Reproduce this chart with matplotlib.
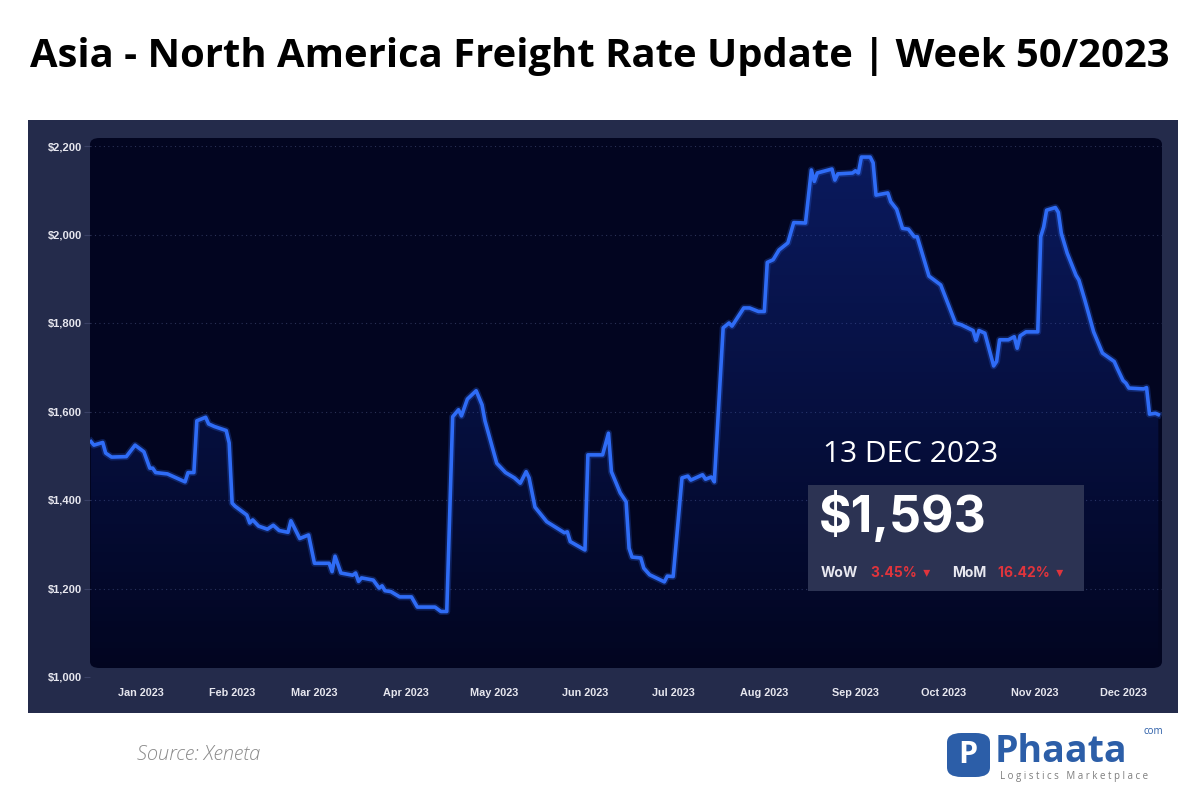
import numpy as np
import pandas as pd
import matplotlib
matplotlib.use("Agg")
import matplotlib.pyplot as plt
import matplotlib.dates as mdates
from matplotlib.patches import FancyBboxPatch
from matplotlib.ticker import FuncFormatter

title = "Asia - North America Freight Rate Update | Week 50/2023"
source = "Source: Xeneta"

# rate readings (USD/FEU)
dates = [
    "2022-12-15", "2022-12-16", "2022-12-19", "2022-12-20", "2022-12-22", "2022-12-27",
    "2022-12-30", "2023-01-02", "2023-01-04", "2023-01-05", "2023-01-06", "2023-01-10",
    "2023-01-13", "2023-01-16", "2023-01-17", "2023-01-19", "2023-01-20", "2023-01-23",
    "2023-01-24", "2023-01-26", "2023-01-30", "2023-01-31", "2023-02-01", "2023-02-02",
    "2023-02-06", "2023-02-07", "2023-02-08", "2023-02-10", "2023-02-13", "2023-02-15",
    "2023-02-17", "2023-02-20", "2023-02-21", "2023-02-24", "2023-02-27", "2023-03-01",
    "2023-03-06", "2023-03-07", "2023-03-08", "2023-03-10", "2023-03-14", "2023-03-15",
    "2023-03-16", "2023-03-17", "2023-03-21", "2023-03-23", "2023-03-24", "2023-03-25",
    "2023-03-27", "2023-03-30", "2023-04-03", "2023-04-05", "2023-04-11", "2023-04-13",
    "2023-04-15", "2023-04-17", "2023-04-19", "2023-04-20", "2023-04-22", "2023-04-25",
    "2023-04-26", "2023-04-27", "2023-04-28", "2023-05-02", "2023-05-05", "2023-05-08",
    "2023-05-10", "2023-05-12", "2023-05-13", "2023-05-15", "2023-05-19", "2023-05-25",
    "2023-05-26", "2023-05-27", "2023-06-01", "2023-06-02", "2023-06-07", "2023-06-09",
    "2023-06-10", "2023-06-13", "2023-06-15", "2023-06-16", "2023-06-17", "2023-06-20",
    "2023-06-21", "2023-06-23", "2023-06-28", "2023-06-29", "2023-07-01", "2023-07-04",
    "2023-07-06", "2023-07-07", "2023-07-11", "2023-07-12", "2023-07-14", "2023-07-15",
    "2023-07-18", "2023-07-20", "2023-07-21", "2023-07-25", "2023-07-27", "2023-07-30",
    "2023-08-01", "2023-08-02", "2023-08-04", "2023-08-05", "2023-08-06", "2023-08-09",
    "2023-08-11", "2023-08-15", "2023-08-17", "2023-08-18", "2023-08-19", "2023-08-24",
    "2023-08-25", "2023-08-26", "2023-08-31", "2023-09-01", "2023-09-02", "2023-09-03",
    "2023-09-06", "2023-09-07", "2023-09-08", "2023-09-12", "2023-09-13", "2023-09-15",
    "2023-09-17", "2023-09-19", "2023-09-21", "2023-09-22", "2023-09-26", "2023-09-30",
    "2023-10-05", "2023-10-07", "2023-10-11", "2023-10-12", "2023-10-13", "2023-10-15",
    "2023-10-18", "2023-10-19", "2023-10-20", "2023-10-23", "2023-10-25", "2023-10-26",
    "2023-10-27", "2023-10-29", "2023-11-02", "2023-11-03", "2023-11-04", "2023-11-05",
    "2023-11-08", "2023-11-09", "2023-11-10", "2023-11-12", "2023-11-15", "2023-11-16",
    "2023-11-18", "2023-11-21", "2023-11-24", "2023-11-28", "2023-11-29", "2023-12-01",
    "2023-12-02", "2023-12-03", "2023-12-08", "2023-12-09", "2023-12-10", "2023-12-12",
    "2023-12-13",
]
rates = [
    1532, 1524, 1530, 1506, 1497, 1498,
    1524, 1509, 1472, 1472, 1462, 1459,
    1450, 1441, 1462, 1462, 1579, 1587,
    1572, 1566, 1557, 1529, 1393, 1386,
    1366, 1348, 1355, 1341, 1334, 1343,
    1331, 1327, 1353, 1313, 1321, 1257,
    1257, 1238, 1273, 1235, 1230, 1235,
    1216, 1224, 1219, 1201, 1206, 1195,
    1193, 1181, 1181, 1158, 1158, 1148,
    1148, 1588, 1604, 1590, 1628, 1647,
    1631, 1615, 1579, 1483, 1462, 1450,
    1438, 1464, 1450, 1384, 1351, 1326,
    1328, 1306, 1287, 1502, 1502, 1551,
    1464, 1416, 1396, 1291, 1271, 1269,
    1246, 1231, 1215, 1228, 1227, 1450,
    1454, 1445, 1457, 1447, 1452, 1441,
    1789, 1800, 1793, 1834, 1834, 1826,
    1826, 1937, 1943, 1954, 1965, 1981,
    2027, 2026, 2146, 2120, 2139, 2148,
    2123, 2137, 2139, 2144, 2139, 2175,
    2175, 2162, 2089, 2094, 2074, 2057,
    2014, 2012, 1995, 1995, 1906, 1886,
    1800, 1796, 1783, 1761, 1783, 1777,
    1703, 1713, 1762, 1762, 1769, 1743,
    1771, 1780, 1780, 1995, 2017, 2055,
    2061, 2050, 2003, 1958, 1908, 1897,
    1852, 1780, 1732, 1713, 1698, 1670,
    1664, 1653, 1651, 1654, 1594, 1596,
    1593,
]

y_ticks = [1000, 1200, 1400, 1600, 1800, 2000, 2200]
last_date = "13 DEC 2023"
last_value = "$1,593"
wow_pct = "3.45%"
mom_pct = "16.42%"

outer_col = "#242b4b"
inner_col = "#020520"
line_col = "#2f6cf6"
red = "#e0343c"

x = pd.to_datetime(dates)
y = np.array(rates)

fig = plt.figure(figsize=(12, 8), dpi=100)
fig.patch.set_facecolor("white")

# dark panels behind the chart
fig.add_artist(FancyBboxPatch((28 / 1200, 1 - 713 / 800), 1150 / 1200, 593 / 800,
                              boxstyle="square,pad=0", transform=fig.transFigure,
                              facecolor=outer_col, edgecolor="none", zorder=-2))
fig.add_artist(FancyBboxPatch((90 / 1200, 1 - 668 / 800), 1072 / 1200, 530 / 800,
                              boxstyle="round,pad=0,rounding_size=0.008",
                              transform=fig.transFigure,
                              facecolor=inner_col, edgecolor="none", zorder=-1))

ax = fig.add_axes([90 / 1200, 1 - 677 / 800, 1072 / 1200, 531 / 800])
ax.set_facecolor("none")
ax.set_zorder(3)

xmin = pd.Timestamp("2022-12-14 16:00")
xmax = pd.Timestamp("2023-12-14 06:00")

# gradient area under the line
poly = ax.fill_between(x, y, 1000, color="none", linewidth=0)
grad = np.linspace(0, 1, 256).reshape(-1, 1)
cmap = matplotlib.colors.LinearSegmentedColormap.from_list(
    "g", [(0.0, (0.12, 0.30, 0.95, 0.0)), (1.0, (0.12, 0.30, 0.95, 0.30))])
im = ax.imshow(grad, aspect="auto", cmap=cmap, origin="lower",
               extent=[mdates.date2num(xmin), mdates.date2num(xmax), 1000, 2200],
               zorder=1)
im.set_clip_path(poly.get_paths()[0], transform=ax.transData)
ax.set_xlim(xmin, xmax)
ax.set_ylim(1000, 2200)

# glow + line
ax.plot(x, y, color=line_col, lw=5, alpha=0.25, zorder=2, solid_joinstyle="round")
ax.plot(x, y, color=line_col, lw=2.6, zorder=3, solid_joinstyle="round")

for v in y_ticks[1:]:
    ax.axhline(v, color="#2a3156", lw=0.8, ls=(0, (1, 3)), zorder=0)

ax.set_yticks(y_ticks)
ax.yaxis.set_major_formatter(FuncFormatter(lambda v, p: f"${v:,.0f}"))
ax.xaxis.set_major_locator(mdates.MonthLocator())
ax.xaxis.set_major_formatter(mdates.DateFormatter("%b %Y"))
ax.tick_params(axis="y", length=4, color="#3a4166", pad=2, labelsize=8,
               labelcolor="#e6e6ee")
ax.tick_params(axis="x", length=0, pad=8, labelsize=7.8, labelcolor="#e6e6ee")
for lab in ax.get_xticklabels() + ax.get_yticklabels():
    lab.set_fontweight("bold")
    lab.set_family("Liberation Sans")
for s in ax.spines.values():
    s.set_visible(False)

# title and footer
fig.text(0.5, 1 - 57 / 800, title, ha="center", va="center", fontsize=28.8,
         fontweight="bold", family="Open Sans", color="black")
fig.text(137 / 1200, 1 - 755 / 800, source, ha="left", va="center", fontsize=14.5,
         style="italic", fontweight="light", family="Open Sans", color="#8a8a8a")

# latest value box
fig.text(823 / 1200, 1 - 455 / 800, last_date, ha="left", va="center", fontsize=21.5,
         family="Open Sans", color="white", zorder=5)
fig.add_artist(FancyBboxPatch((808 / 1200, 1 - 591 / 800), 276 / 1200, 106 / 800,
                              boxstyle="square,pad=0", transform=fig.transFigure,
                              facecolor="#2c3353", edgecolor="none", zorder=4))
fig.text(819 / 1200, 1 - 516 / 800, last_value, ha="left", va="center", fontsize=36,
         fontweight="bold", family="Inter", color="white", zorder=5)
row_y = 1 - 573 / 800
fig.text(821 / 1200, row_y, "WoW", ha="left", va="center", fontsize=10,
         fontweight="bold", family="Inter", color="#e8e8f0", zorder=5)
fig.text(871 / 1200, row_y, wow_pct + "  \u25BE", ha="left", va="center", fontsize=10,
         fontweight="bold", family=["Inter", "DejaVu Sans"], color=red, zorder=5)
fig.text(952 / 1200, row_y, "MoM", ha="left", va="center", fontsize=10,
         fontweight="bold", family="Inter", color="#e8e8f0", zorder=5)
fig.text(998 / 1200, row_y, mom_pct + "  \u25BE", ha="left", va="center", fontsize=10,
         fontweight="bold", family=["Inter", "DejaVu Sans"], color=red, zorder=5)

# logo
blue = "#2c5ea8"
fig.add_artist(FancyBboxPatch((947 / 1200, 1 - 777 / 800), 43 / 1200, 44 / 800,
                              boxstyle="round,pad=0,rounding_size=0.012",
                              transform=fig.transFigure, facecolor=blue,
                              edgecolor="none"))
fig.text(968 / 1200, 1 - 755 / 800, "P", ha="center", va="center", fontsize=22,
         fontweight="bold", family="Open Sans", color="white")
fig.text(995 / 1200, 1 - 762 / 800, "Phaata", ha="left", va="baseline", fontsize=27,
         fontweight="bold", family="Open Sans", color=blue)
fig.text(1163 / 1200, 1 - 732 / 800, "com", ha="right", va="center", fontsize=7,
         family="Open Sans", color=blue)
fig.text(1000 / 1200, 1 - 776 / 800, "L o g i s t i c s   M a r k e t p l a c e",
         ha="left", va="center", fontsize=7, family="Open Sans", color="#7d7d7d")

fig.savefig("out.png", dpi=100, facecolor="white")
